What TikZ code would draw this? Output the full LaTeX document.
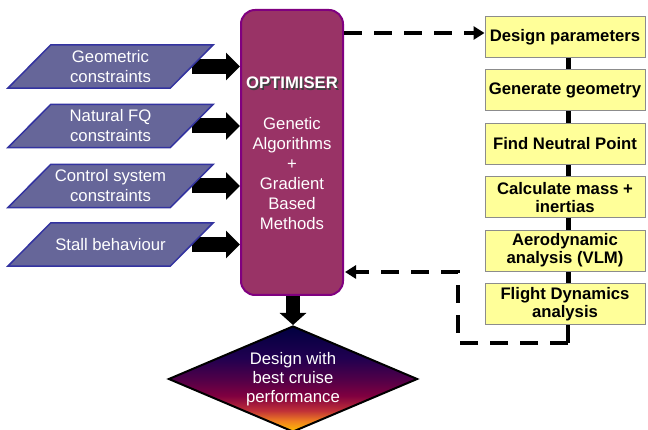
\documentclass[tikz,border=0pt]{standalone}
\usepackage{fontspec}
\setmainfont{Liberation Sans}
\usetikzlibrary{shapes.geometric,arrows.meta,calc,backgrounds}
\definecolor{parafill}{HTML}{666699}
\definecolor{paraedge}{HTML}{3333A0}
\definecolor{optfill}{HTML}{993366}
\definecolor{optedge}{HTML}{800080}
\definecolor{boxfill}{HTML}{FFFF99}
\definecolor{boxedge}{HTML}{8C8C8C}
\definecolor{dgA}{HTML}{FFC000}
\definecolor{dgB}{HTML}{F08020}
\definecolor{dgC}{HTML}{C03038}
\definecolor{dgD}{HTML}{800040}
\definecolor{dgE}{HTML}{500048}
\definecolor{dgF}{HTML}{200050}
\definecolor{dgG}{HTML}{000040}
\pgfdeclareverticalshading{diamondshade}{100bp}{color(0bp)=(dgA); color(25bp)=(dgA); color(30bp)=(dgB); color(35bp)=(dgC); color(42bp)=(dgD); color(50bp)=(dgE); color(60bp)=(dgF); color(75bp)=(dgG); color(100bp)=(dgG)}
\begin{document}
\begin{tikzpicture}[x=1pt,y=-1pt,
  txt/.style={font=\fontsize{16.7}{20}\selectfont},
  para/.style={rectangle, minimum width=162pt, minimum height=43pt,
    text=white, align=center, inner sep=0pt, txt},
  parashape/.style={fill=parafill, draw=paraedge, line width=1.5pt},
  optbox/.style={rectangle, rounded corners=14pt, minimum width=102pt, minimum height=285pt,
    fill=optfill, draw=optedge, line width=2pt},
  stepbox/.style={rectangle, minimum width=160pt, minimum height=41pt, fill=boxfill,
    draw=boxedge, line width=1pt, align=center, inner sep=0pt,
    font=\fontsize{16.7}{18}\selectfont\bfseries},
  bigarrow/.style={line width=15pt, -{Triangle[length=14pt,width=27pt]}},
  downarrow/.style={line width=14pt, -{Triangle[length=12pt,width=26pt]}},
  dasharrow/.style={line width=4pt, dash pattern=on 18pt off 12pt, -{Triangle[length=11pt,width=13pt]}},
  link/.style={line width=5pt}
]
\useasboundingbox (0,0) rectangle (648,430);

% left constraint parallelograms (text nodes; outline drawn below)
\node[para] (p1) at (110.5,66.5) {Geometric\\constraints};
\node[para] (p2) at (110.5,126) {Natural FQ\\constraints};
\node[para] (p3) at (110.5,186) {Control system\\constraints};
\node[para] (p4) at (110.5,244.5) {Stall behaviour};

% optimiser
\node[optbox] (opt) at (292,152.5) {};
\node[txt, text=black!75, font=\fontsize{16.7}{20}\selectfont\bfseries] (opttitleshadow) at (293.5,84.5) {OPTIMISER};
\node[txt, text=white, font=\fontsize{16.7}{20}\selectfont\bfseries] (opttitle) at (292,83) {OPTIMISER};
\node[txt, text=white, align=center] (optbody) at (292,174) {Genetic\\Algorithms\\+\\Gradient\\Based\\Methods};

% result diamond
\node[diamond, aspect=2.35, minimum width=249pt, minimum height=106pt, inner sep=0pt,
  draw=black, line width=2pt, shade, shading=diamondshade, text=white, align=center,
  font=\fontsize{16.7}{19}\selectfont] (res) at (293,379) {Design with\\best cruise\\performance};

% right process boxes
\node[stepbox] (b1) at (565,37) {Design parameters};
\node[stepbox] (b2) at (565,90.4) {Generate geometry};
\node[stepbox] (b3) at (565,143.8) {Find Neutral Point};
\node[stepbox] (b4) at (565,197.2) {Calculate mass +\\inertias};
\node[stepbox] (b5) at (565,250.6) {Aerodynamic\\analysis (VLM)};
\node[stepbox] (b6) at (565,304) {Flight Dynamics\\analysis};

\coordinate (r1) at (568,343);
\coordinate (r2) at (458,343);
\coordinate (r3) at (458,272);

\begin{scope}[on background layer]
  \foreach \p in {p1,p2,p3,p4}
    \draw[bigarrow] (\p.east) -- (\p.east -| opt.west);
  \foreach \p in {p1,p2,p3,p4}
    \draw[parashape] ([xshift=-21.5pt]\p.south west) -- ([xshift=-21.5pt]\p.south east)
      -- ([xshift=21.5pt]\p.north east) -- ([xshift=21.5pt]\p.north west) -- cycle;
  \draw[link] ([xshift=3pt]b1.south) -- ([xshift=3pt]b2.north);
  \draw[link] ([xshift=3pt]b2.south) -- ([xshift=3pt]b3.north);
  \draw[link] ([xshift=3pt]b3.south) -- ([xshift=3pt]b4.north);
  \draw[link] ([xshift=3pt]b4.south) -- ([xshift=3pt]b5.north);
  \draw[link] ([xshift=3pt]b5.south) -- ([xshift=3pt]b6.north);
  \draw[line width=4pt] ([xshift=3pt]b6.south) -- (r1);
\end{scope}

\draw[downarrow] ([xshift=1pt]opt.south) -- ([xshift=1pt]opt.south |- res.north);
\draw[dasharrow] ([yshift=4pt]opt.east |- b1.west) -- ([yshift=4pt]b1.west);
\draw[dasharrow] (r1) -- (r2) -- (r3) -- ([xshift=1pt]r3 -| opt.east);
\end{tikzpicture}
\end{document}
